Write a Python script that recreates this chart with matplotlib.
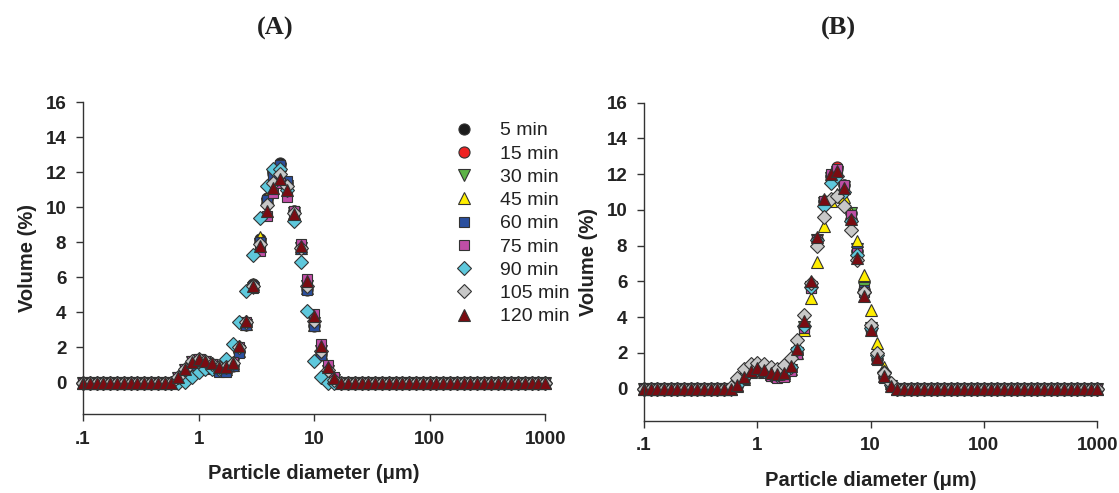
import numpy as np
import matplotlib
matplotlib.use('Agg')
import matplotlib.pyplot as plt

plt.rcParams['font.family'] = ['Liberation Sans', 'DejaVu Sans']

# size classes of the analyser: 17 per decade, 0.1 to 1000 um
sizes = 10 ** (np.arange(69) / 17 - 1)
n_lead, n_trail = 13, 31   # zero classes before / after the peak section

labels = ['5 min', '15 min', '30 min', '45 min', '60 min', '75 min', '90 min', '105 min', '120 min']
markers = ['o', 'o', 'v', '^', 's', 's', 'D', 'D', '^']
colors = ['#1c1c1c', '#ee2222', '#5cb346', '#ffee00', '#2a4f9e', '#c04ea6', '#5ec8dc', '#c8c8c8', '#7a0c12']
msizes = [8, 8, 8, 8.5, 7.5, 7.5, 7.5, 7.5, 8.5]

# panel A, volume % for size classes 13..37
a_5 = [0.0, 0.25, 0.7, 1.15, 1.3, 1.2, 1.0, 0.75, 0.7, 0.95, 1.75, 3.3, 5.6, 8.2, 10.5, 12.0, 12.5, 11.4, 9.8, 7.7, 5.3, 3.2, 1.6, 0.55, 0.1]
a_15 = [0.0, 0.25, 0.72, 1.18, 1.3, 1.2, 1.0, 0.78, 0.72, 1.0, 1.8, 3.35, 5.55, 8.1, 10.4, 11.9, 12.4, 11.4, 9.8, 7.7, 5.4, 3.3, 1.7, 0.6, 0.12]
a_30 = [0.0, 0.25, 0.7, 1.15, 1.28, 1.18, 1.0, 0.78, 0.75, 1.0, 1.8, 3.3, 5.4, 7.9, 10.2, 11.7, 12.2, 11.2, 9.7, 7.7, 5.5, 3.4, 1.8, 0.65, 0.15]
a_45 = [0.0, 0.25, 0.7, 1.15, 1.3, 1.2, 1.0, 0.78, 0.75, 1.0, 1.8, 3.35, 5.6, 8.3, 10.6, 11.9, 12.4, 11.3, 9.7, 7.7, 5.4, 3.3, 1.7, 0.6, 0.12]
a_60 = [0.0, 0.2, 0.6, 1.0, 1.15, 1.0, 0.8, 0.6, 0.6, 0.95, 1.7, 3.3, 5.5, 8.0, 10.4, 11.8, 12.4, 11.5, 9.8, 7.6, 5.3, 3.2, 1.6, 0.55, 0.1]
a_75 = [0.0, 0.3, 0.8, 1.25, 1.35, 1.25, 1.05, 0.85, 0.85, 1.15, 2.0, 3.45, 5.4, 7.5, 9.5, 10.8, 11.4, 10.6, 9.8, 7.9, 5.9, 3.9, 2.2, 1.0, 0.3]
a_90 = [0.0, 0.0, 0.05, 0.3, 0.6, 0.8, 0.75, 0.8, 1.35, 2.2, 3.45, 5.2, 7.3, 9.4, 11.2, 12.2, 12.2, 11.0, 9.2, 6.9, 4.1, 1.25, 0.3, 0.0, 0.0]
a_105 = [0.0, 0.3, 0.78, 1.22, 1.33, 1.24, 1.08, 0.86, 0.86, 1.12, 2.0, 3.45, 5.5, 7.9, 10.1, 11.4, 11.9, 11.2, 9.7, 7.7, 5.5, 3.5, 1.8, 0.7, 0.15]
a_120 = [0.0, 0.3, 0.76, 1.2, 1.33, 1.24, 1.1, 0.88, 0.88, 1.14, 2.06, 3.5, 5.5, 7.8, 9.8, 11.1, 11.6, 11.0, 9.6, 7.8, 5.8, 3.8, 2.06, 0.88, 0.25]

# panel B
b_5 = [0.0, 0.15, 0.58, 0.92, 1.05, 0.95, 0.75, 0.65, 0.72, 1.05, 2.0, 3.45, 5.7, 8.3, 10.5, 11.9, 12.3, 11.4, 9.8, 7.7, 5.5, 3.35, 1.65, 0.62, 0.12]
b_15 = [0.0, 0.15, 0.58, 0.92, 1.05, 0.95, 0.75, 0.65, 0.72, 1.08, 2.0, 3.5, 5.75, 8.35, 10.5, 11.9, 12.4, 11.4, 9.8, 7.7, 5.5, 3.35, 1.65, 0.62, 0.12]
b_30 = [0.0, 0.15, 0.55, 0.9, 1.02, 0.92, 0.72, 0.62, 0.7, 1.05, 2.0, 3.45, 5.7, 8.3, 10.4, 11.8, 12.1, 11.3, 9.8, 7.8, 5.6, 3.4, 1.7, 0.65, 0.12]
b_45 = [0.0, 0.15, 0.55, 0.9, 1.05, 0.95, 0.8, 0.7, 0.75, 1.1, 2.0, 3.25, 5.05, 7.1, 9.1, 10.5, 10.9, 10.7, 9.8, 8.25, 6.35, 4.4, 2.55, 1.2, 0.3]
b_60 = [0.0, 0.15, 0.55, 0.9, 1.0, 0.92, 0.72, 0.62, 0.68, 1.02, 1.95, 3.4, 5.65, 8.3, 10.5, 11.9, 12.2, 11.3, 9.7, 7.7, 5.5, 3.35, 1.65, 0.62, 0.12]
b_75 = [0.0, 0.15, 0.55, 0.9, 1.0, 0.9, 0.7, 0.6, 0.65, 1.0, 1.95, 3.4, 5.6, 8.3, 10.5, 12.0, 12.3, 11.4, 9.7, 7.6, 5.4, 3.3, 1.6, 0.6, 0.1]
b_90 = [0.0, 0.2, 0.65, 1.0, 1.1, 1.0, 0.8, 0.75, 0.85, 1.2, 2.2, 3.5, 5.7, 8.3, 10.2, 11.5, 11.9, 11.0, 9.4, 7.5, 5.4, 3.4, 1.9, 0.9, 0.2]
b_105 = [0.1, 0.6, 1.1, 1.4, 1.45, 1.35, 1.2, 1.1, 1.3, 1.7, 2.7, 4.1, 5.9, 7.95, 9.6, 10.6, 10.8, 10.2, 8.9, 7.2, 5.4, 3.55, 2.0, 0.85, 0.3]
b_120 = [0.0, 0.2, 0.65, 1.0, 1.15, 1.05, 0.85, 0.8, 0.85, 1.25, 2.2, 3.8, 6.0, 8.5, 10.6, 12.0, 12.2, 11.2, 9.5, 7.3, 5.2, 3.3, 1.7, 0.7, 0.15]

series_a = [a_5, a_15, a_30, a_45, a_60, a_75, a_90, a_105, a_120]
series_b = [b_5, b_15, b_30, b_45, b_60, b_75, b_90, b_105, b_120]


def full(vals):
    return np.concatenate([np.zeros(n_lead), vals, np.zeros(n_trail)])


fig = plt.figure(figsize=(11.19, 4.93), dpi=100)
ax_a = fig.add_axes([0.0742, 0.160, 0.413, 0.633])
ax_b = fig.add_axes([0.5755, 0.1467, 0.405, 0.645])

for ax, data in [(ax_a, series_a), (ax_b, series_b)]:
    for vals, lab, m, c, ms in zip(data, labels, markers, colors, msizes):
        ax.plot(sizes, full(vals), linestyle='none', marker=m, ms=ms, mfc=c,
                mec='#333333', mew=0.8, label=lab, clip_on=False)
    ax.set_xscale('log')
    ax.set_xlim(0.1, 1000)
    ax.set_ylim(-1.8, 16)
    ax.set_xticks([0.1, 1, 10, 100, 1000])
    ax.set_xticklabels(['.1', '1', '10', '100', '1000'])
    ax.xaxis.set_minor_locator(matplotlib.ticker.NullLocator())
    ax.set_yticks(range(0, 17, 2))
    for s in ['top', 'right']:
        ax.spines[s].set_visible(False)
    for s in ['left', 'bottom']:
        ax.spines[s].set_color('#333333')
        ax.spines[s].set_linewidth(1.0)
    ax.tick_params(direction='out', length=5, width=1, color='#333333',
                   labelsize=13.5, labelcolor='#222222', pad=7)
    for t in ax.get_xticklabels() + ax.get_yticklabels():
        t.set_fontweight('bold')
    ax.set_xlabel('Particle diameter (\u03bcm)', fontsize=14.5, fontweight='bold',
                  color='#222222', labelpad=12)
    ax.set_ylabel('Volume (%)', fontsize=14.5, fontweight='bold', color='#222222', labelpad=6)

ax_a.legend(loc='upper left', bbox_to_anchor=(445 / 1119, 1 - 112 / 493),
            bbox_transform=fig.transFigure, frameon=False, fontsize=14,
            handlelength=1.0, handletextpad=1.35, labelspacing=0.29, borderpad=0,
            labelcolor='#222222')

fig.text(275 / 1119, 1 - 28 / 493, '(A)', ha='center', va='center', fontsize=19,
         fontweight='bold', family='Liberation Serif', color='#222222')
fig.text(838 / 1119, 1 - 28 / 493, '(B)', ha='center', va='center', fontsize=19,
         fontweight='bold', family='Liberation Serif', color='#222222')

fig.savefig('out.png', dpi=100)
